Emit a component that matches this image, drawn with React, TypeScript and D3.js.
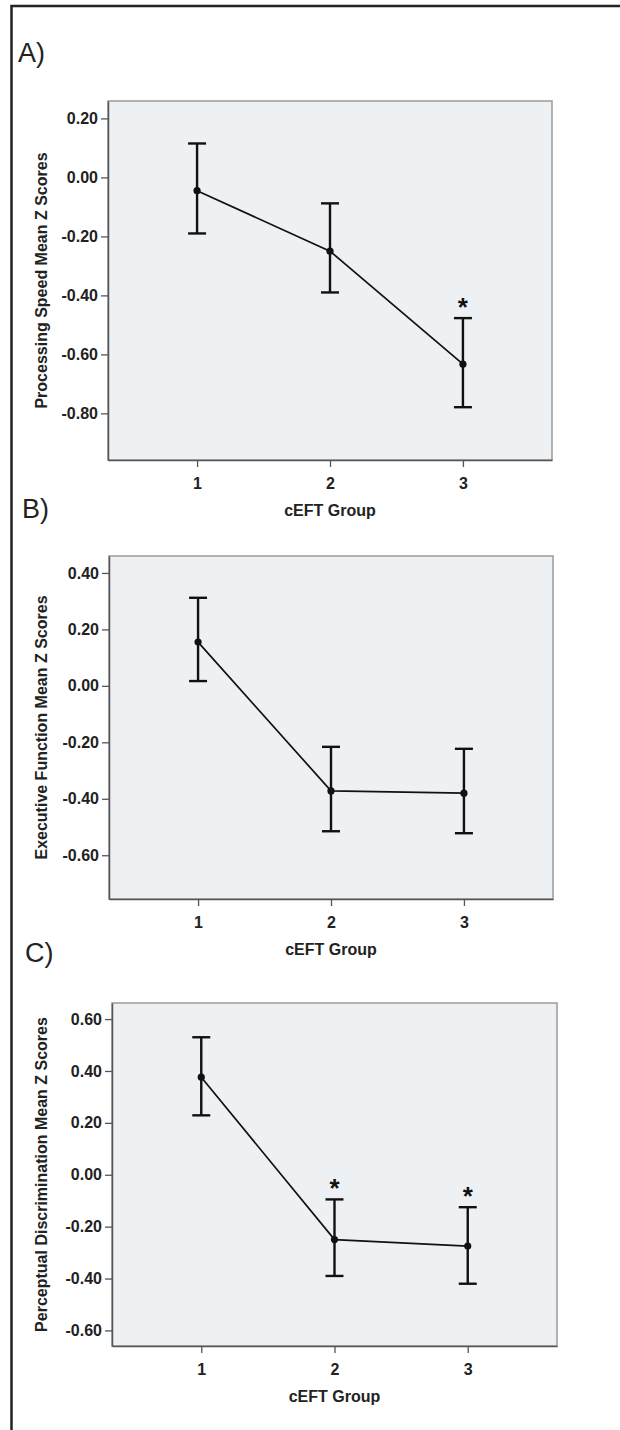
import React, { useEffect, useRef } from 'react';
import * as d3 from 'd3';

// x categories
const groups = [1, 2, 3];
const xTitle = "cEFT Group";

// panel A - processing speed
const meansA = [-0.045, -0.25, -0.633];
const lowerA = [-0.19, -0.39, -0.779];
const upperA = [0.115, -0.088, -0.477];
const ticksA = [0.2, 0.0, -0.2, -0.4, -0.6, -0.8];
const domainA = [-0.958, 0.259];
const starsA = [3];

// panel B - executive function
const meansB = [0.155, -0.372, -0.38];
const lowerB = [0.017, -0.515, -0.522];
const upperB = [0.312, -0.216, -0.223];
const ticksB = [0.4, 0.2, 0.0, -0.2, -0.4, -0.6];
const domainB = [-0.755, 0.46];
const starsB = [];

// panel C - perceptual discrimination
const meansC = [0.376, -0.25, -0.275];
const lowerC = [0.229, -0.39, -0.42];
const upperC = [0.53, -0.095, -0.125];
const ticksC = [0.6, 0.4, 0.2, 0.0, -0.2, -0.4, -0.6];
const domainC = [-0.66, 0.662];
const starsC = [2, 3];

const letters = ["A)", "B)", "C)"];
const yTitles = [
  "Processing Speed Mean Z Scores",
  "Executive Function Mean Z Scores",
  "Perceptual Discrimination Mean Z Scores",
];

const FONT = "'Liberation Sans', Arial, sans-serif";

export default function App() {
  const svgRef = useRef(null);

  useEffect(() => {
    const svg = d3.select(svgRef.current);
    svg.selectAll("*").remove();

    const panels = [
      { means: meansA, lower: lowerA, upper: upperA, ticks: ticksA, domain: domainA, stars: starsA },
      { means: meansB, lower: lowerB, upper: upperB, ticks: ticksB, domain: domainB, stars: starsB },
      { means: meansC, lower: lowerC, upper: upperC, ticks: ticksC, domain: domainC, stars: starsC },
    ];

    const boxes = [
      { x0: 108, x1: 552, y0: 101, y1: 460, lx: 18, ly: 62 },
      { x0: 109, x1: 553, y0: 556, y1: 899, lx: 22, ly: 518 },
      { x0: 112, x1: 557, y0: 1003, y1: 1346, lx: 25, ly: 962 },
    ];

    // outer frame (cropped: only left and top edge show)
    svg.append("path")
      .attr("d", "M11.5,1430V6H620")
      .attr("fill", "none")
      .attr("stroke", "#222")
      .attr("stroke-width", 2.5);

    const fmt = d3.formatLocale({ decimal: ".", thousands: ",", grouping: [3], currency: ["", ""], minus: "-" }).format(".2f");

    panels.forEach((p, i) => {
      const b = boxes[i];
      const x = d3.scaleLinear().domain([0.33, 3.67]).range([b.x0, b.x1]);
      const y = d3.scaleLinear().domain(p.domain).range([b.y1, b.y0]);

      // panel letter
      svg.append("text")
        .attr("x", b.lx)
        .attr("y", b.ly)
        .style("font-family", FONT)
        .style("font-size", "27px")
        .attr("fill", "#222")
        .text(letters[i]);

      // plot background + frame
      svg.append("rect")
        .attr("x", b.x0)
        .attr("y", b.y0)
        .attr("width", b.x1 - b.x0)
        .attr("height", b.y1 - b.y0)
        .attr("fill", "#eef1f4")
        .attr("stroke", "#9a9a9a")
        .attr("stroke-width", 1.5);

      // y axis
      const yAxis = svg.append("g")
        .attr("transform", `translate(${b.x0},0)`)
        .call(d3.axisLeft(y).tickValues(p.ticks).tickSize(7).tickSizeOuter(0).tickPadding(3).tickFormat(fmt));
      yAxis.select(".domain").attr("stroke", "#555").attr("stroke-width", 1.5);
      yAxis.selectAll(".tick line").attr("stroke", "#555").attr("stroke-width", 1.3);
      yAxis.selectAll(".tick text")
        .style("font-family", FONT)
        .style("font-size", "16px")
        .style("font-weight", "bold")
        .attr("fill", "#222");

      // x axis
      const xAxis = svg.append("g")
        .attr("transform", `translate(0,${b.y1})`)
        .call(d3.axisBottom(x).tickValues(groups).tickSize(7).tickSizeOuter(0).tickPadding(11).tickFormat(d3.format("d")));
      xAxis.select(".domain").attr("stroke", "#555").attr("stroke-width", 1.5);
      xAxis.selectAll(".tick line").attr("stroke", "#555").attr("stroke-width", 1.3);
      xAxis.selectAll(".tick text")
        .style("font-family", FONT)
        .style("font-size", "16px")
        .style("font-weight", "bold")
        .attr("fill", "#222");

      // axis titles
      svg.append("text")
        .attr("transform", `translate(41,${(b.y0 + b.y1) / 2}) rotate(-90)`)
        .attr("text-anchor", "middle")
        .attr("dy", "0.35em")
        .style("font-family", FONT)
        .style("font-size", "16px")
        .style("font-weight", "bold")
        .attr("fill", "#222")
        .text(yTitles[i]);

      svg.append("text")
        .attr("x", (b.x0 + b.x1) / 2)
        .attr("y", b.y1 + 56)
        .attr("text-anchor", "middle")
        .style("font-family", FONT)
        .style("font-size", "16px")
        .style("font-weight", "bold")
        .attr("fill", "#222")
        .text(xTitle);

      // mean line
      svg.append("path")
        .datum(groups)
        .attr("fill", "none")
        .attr("stroke", "#111")
        .attr("stroke-width", 1.7)
        .attr("d", d3.line().x(d => x(d)).y((d, j) => y(p.means[j])));

      // error bars
      const bars = svg.append("g")
        .attr("stroke", "#111")
        .attr("stroke-width", 2.4)
        .selectAll("g")
        .data(groups)
        .join("g");
      bars.append("line")
        .attr("x1", d => x(d)).attr("x2", d => x(d))
        .attr("y1", (d, j) => y(p.upper[j]))
        .attr("y2", (d, j) => y(p.lower[j]));
      bars.append("line")
        .attr("x1", d => x(d) - 9).attr("x2", d => x(d) + 9)
        .attr("y1", (d, j) => y(p.upper[j]))
        .attr("y2", (d, j) => y(p.upper[j]));
      bars.append("line")
        .attr("x1", d => x(d) - 9).attr("x2", d => x(d) + 9)
        .attr("y1", (d, j) => y(p.lower[j]))
        .attr("y2", (d, j) => y(p.lower[j]));

      // points
      svg.append("g")
        .selectAll("circle")
        .data(groups)
        .join("circle")
        .attr("cx", d => x(d))
        .attr("cy", (d, j) => y(p.means[j]))
        .attr("r", 3.6)
        .attr("fill", "#111");

      // significance stars
      svg.append("g")
        .selectAll("text")
        .data(p.stars)
        .join("text")
        .attr("x", d => x(d))
        .attr("y", d => y(p.upper[groups.indexOf(d)]) - 2)
        .attr("text-anchor", "middle")
        .style("font-family", FONT)
        .style("font-size", "26px")
        .style("font-weight", "bold")
        .attr("fill", "#111")
        .text("*");
    });
  }, []);

  return (
    <svg
      ref={svgRef}
      width={620}
      height={1430}
      style={{ position: 'absolute', left: 0, top: 0, background: '#fff' }}
    />
  );
}
